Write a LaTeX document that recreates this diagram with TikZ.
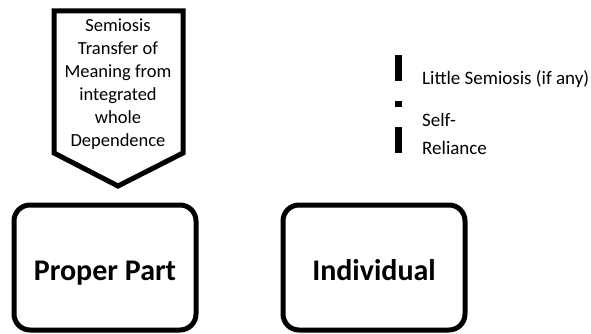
\documentclass[tikz,border=0pt]{standalone}
\usepackage{fontspec}
\setmainfont{Carlito}
\begin{document}
\begin{tikzpicture}[x=1pt,y=-1pt,
  heavy/.style={line width=5pt,line join=miter},
  bigbox/.style={draw,heavy,rounded corners=16pt,minimum width=182pt,minimum height=125pt,inner sep=0pt,
    text height=30pt,text depth=5pt,
    font=\fontsize{30}{34}\selectfont\bfseries},
  note/.style={inner sep=0pt,align=left,anchor=west,font=\fontsize{19}{28}\selectfont}]
\useasboundingbox (0,0) rectangle (591,334);
% pentagon arrow pointing down
\coordinate (pA) at (54,11);
\coordinate (pB) at (183,11);
\coordinate (pC) at (183,153);
\coordinate (pD) at (118,186);
\coordinate (pE) at (54,153);
\draw[heavy] (pA) -- (pB) -- (pC) -- (pD) -- (pE) -- cycle;
\node[align=center,inner sep=0pt,font=\fontsize{18.5}{23}\selectfont] (sem) at (118,84)
  {Semiosis\\Transfer of\\Meaning from\\integrated\\whole\\Dependence};
% two boxes
\node[bigbox] (pp) at (105,267.5) {Proper Part};
\node[bigbox] (ind) at (374,267.5) {Individual};
% broken bar on the right
\coordinate (bt) at (398.5,55);
\coordinate (bb) at (398.5,153);
\draw[line width=7pt,dash pattern=on 26pt off 20pt on 6pt off 20pt on 26pt] (bt) -- (bb);
\node[note] (little) at (422,79) {Little Semiosis (if any)};
\node[note] (self) at (422,134) {Self-\\Reliance};
\end{tikzpicture}
\end{document}
